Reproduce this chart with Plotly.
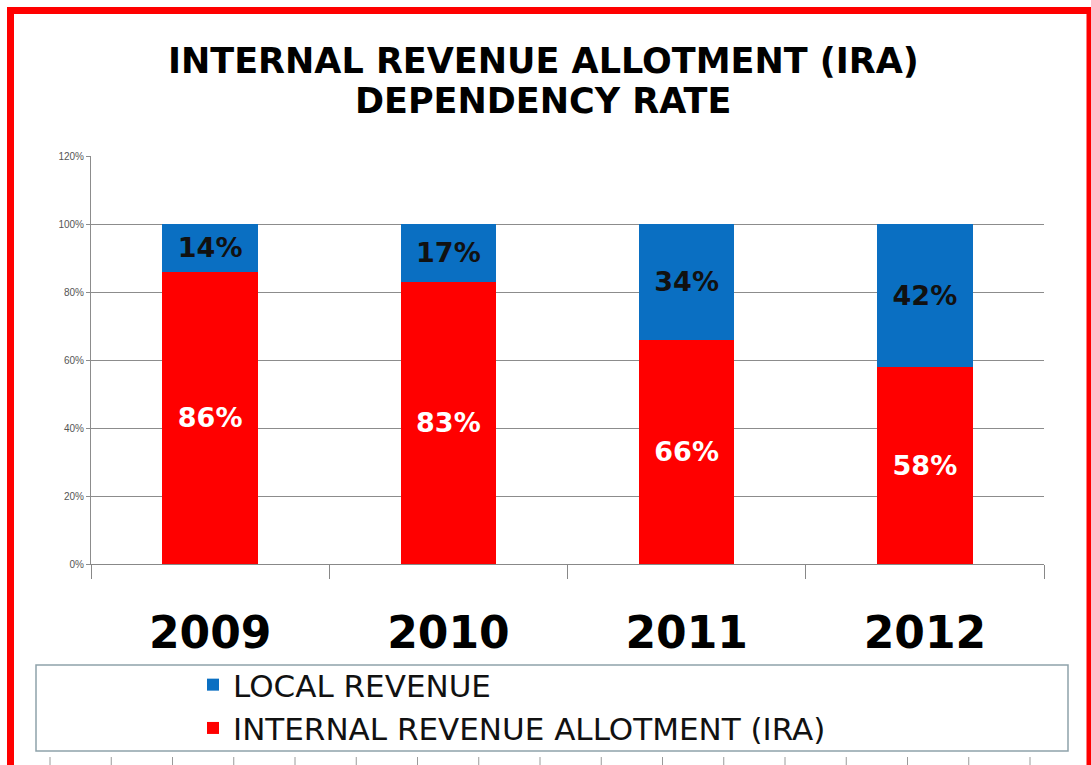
import plotly.graph_objects as go

# Data
years = ["2009", "2010", "2011", "2012"]
ira_share = [0.86, 0.83, 0.66, 0.58]
local_share = [0.14, 0.17, 0.34, 0.42]
y_ticks = [0, 0.2, 0.4, 0.6, 0.8, 1.0, 1.2]

BLUE = "#0A6FC2"
RED = "#FF0000"

W, H = 1091, 765
ML, MR, MT, MB = 91, 47, 156, 201
PW = W - ML - MR
PH = H - MT - MB


def px_x(x):
    return (x - ML) / PW


def px_y(y):
    return (H - MB - y) / PH


fig = go.Figure()
fig.add_trace(go.Bar(
    x=years, y=ira_share, name="INTERNAL REVENUE ALLOTMENT (IRA)",
    marker=dict(color=RED, line=dict(width=0)),
    texttemplate="%{y:.0%}", textposition="inside", insidetextanchor="middle",
    textfont=dict(family="DejaVu Sans", size=27, color="white", weight="bold"),
    constraintext="none", width=0.4,
))
fig.add_trace(go.Bar(
    x=years, y=local_share, name="LOCAL REVENUE",
    marker=dict(color=BLUE, line=dict(width=0)),
    texttemplate="%{y:.0%}", textposition="inside", insidetextanchor="middle",
    textfont=dict(family="DejaVu Sans", size=27, color="#111111", weight="bold"),
    constraintext="none", width=0.4,
))

# Title lines
for txt, yy in [("INTERNAL REVENUE ALLOTMENT (IRA)", 61), ("DEPENDENCY RATE", 100)]:
    fig.add_annotation(text="<b>" + txt + "</b>", xref="paper", yref="paper",
                       x=px_x(543), y=px_y(yy), showarrow=False,
                       xanchor="center", yanchor="middle", height=37, borderpad=0,
                       font=dict(family="DejaVu Sans", size=35, color="black"))

shapes = []
# outer red frame
shapes.append(dict(type="rect", xref="paper", yref="paper",
                   x0=px_x(10.5), x1=px_x(1090), y0=px_y(10.5), y1=px_y(780),
                   line=dict(color=RED, width=7), fillcolor="rgba(0,0,0,0)", layer="above"))
# legend frame
shapes.append(dict(type="rect", xref="paper", yref="paper",
                   x0=px_x(36), x1=px_x(1068), y0=px_y(665), y1=px_y(751),
                   line=dict(color="#8FA2AA", width=1.5), fillcolor="rgba(0,0,0,0)", layer="above"))
# faint tick row along the bottom edge
n_dash = 17
for i in range(n_dash):
    xx = 50 + i * (980 / (n_dash - 1))
    shapes.append(dict(type="line", xref="paper", yref="paper",
                       x0=px_x(xx), x1=px_x(xx), y0=px_y(757), y1=px_y(766),
                       line=dict(color="#9a9a9a", width=1)))

fig.update_layout(
    width=W, height=H,
    margin=dict(l=ML, r=MR, t=MT, b=MB, pad=0, autoexpand=False),
    paper_bgcolor="white", plot_bgcolor="white",
    barmode="stack",
    shapes=shapes,
    showlegend=True,
    legend=dict(xref="container", yref="container",
                x=193 / W, y=1 - 658 / H, xanchor="left", yanchor="top",
                traceorder="reversed", bgcolor="rgba(0,0,0,0)", borderwidth=0,
                font=dict(family="DejaVu Sans", size=31, color="#111111")),
    xaxis=dict(
        type="category", range=[-0.5, 3.5], automargin=False,
        tickson="boundaries", ticks="outside", ticklen=14, tickcolor="#888888", tickwidth=1,
        showline=True, linecolor="#888888", linewidth=1,
        tickfont=dict(family="DejaVu Sans", size=44, color="black", weight="bold"),
        ticklabelstandoff=30, showgrid=False,
    ),
    yaxis=dict(
        range=[0, 1.2], tickvals=y_ticks, tickformat=".0%", automargin=False,
        showgrid=True, gridcolor="#8c8c8c", gridwidth=1,
        showline=True, linecolor="#8c8c8c", linewidth=1,
        ticks="outside", ticklen=4, tickcolor="#8c8c8c",
        tickfont=dict(family="Liberation Sans", size=10, color="#555555"),
        zeroline=False,
    ),
)

fig.write_html("out.html")
